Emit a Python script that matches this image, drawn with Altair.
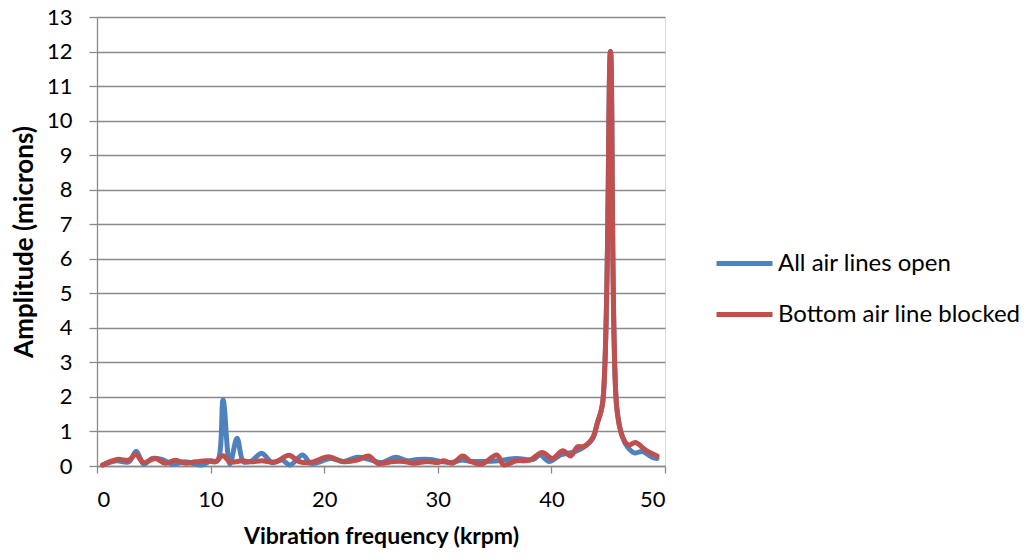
import altair as alt
import pandas as pd

series_names = ["All air lines open", "Bottom air line blocked"]
series_colors = ["#4F81BD", "#C0504D"]

blue_x = [0.5, 1.7, 2.8, 3.45, 4.1, 4.85, 5.7, 6.6, 7.8, 9.25, 10.0, 10.6, 11.1, 11.7,
          12.33, 12.9, 13.6, 14.5, 15.4, 16.3, 17.0, 18.1, 18.8, 19.7, 20.5, 21.7, 22.9,
          24.0, 25.0, 26.3, 27.3, 28.2, 29.4, 30.3, 31.2, 32.1, 33.0, 33.9, 35.3, 36.9,
          38.4, 39.0, 39.8, 40.8, 41.5, 42.4, 43.6, 44.05, 44.5, 45.2, 45.75, 46.25, 46.7,
          47.3, 48.0, 48.9, 49.3]
blue_y = [0.03, 0.15, 0.12, 0.43, 0.06, 0.22, 0.19, 0.06, 0.12, 0.03, 0.15, 0.15, 1.91, 0.06,
          0.80, 0.12, 0.15, 0.37, 0.10, 0.17, 0.03, 0.32, 0.08, 0.13, 0.22, 0.13, 0.25,
          0.19, 0.10, 0.25, 0.15, 0.19, 0.19, 0.13, 0.10, 0.17, 0.13, 0.13, 0.15, 0.22,
          0.19, 0.32, 0.13, 0.32, 0.37, 0.46, 0.78, 1.25, 1.8, 12.0, 1.7, 0.85, 0.55,
          0.38, 0.42, 0.25, 0.22]

red_x = [0.5, 1.76, 2.79, 3.43, 4.1, 5.14, 6.0, 6.9, 7.8, 8.66, 9.8, 10.4, 11.1, 11.7,
         12.8, 13.6, 14.5, 15.7, 16.9, 17.8, 18.8, 20.4, 21.6, 22.9, 23.9, 24.7, 26.1,
         27.0, 27.9, 29.1, 30.0, 30.5, 31.3, 32.2, 32.9, 33.9, 35.2, 35.8, 36.9, 38.1,
         39.2, 40.1, 41.0, 41.7, 42.3, 42.8, 43.6, 44.05, 44.5, 45.2, 45.75, 46.25, 46.8,
         47.4, 48.3, 49.3]
red_y = [0.03, 0.19, 0.17, 0.33, 0.10, 0.22, 0.08, 0.17, 0.08, 0.12, 0.15, 0.12, 0.30, 0.12,
         0.15, 0.12, 0.15, 0.12, 0.31, 0.13, 0.10, 0.27, 0.13, 0.17, 0.29, 0.08, 0.13,
         0.13, 0.08, 0.13, 0.10, 0.15, 0.08, 0.29, 0.13, 0.06, 0.32, 0.03, 0.15, 0.17,
         0.39, 0.22, 0.44, 0.29, 0.56, 0.56, 0.80, 1.25, 1.8, 12.0, 1.7, 0.85, 0.61,
         0.68, 0.46, 0.29]

x_ticks = [0, 10, 20, 30, 40, 50]
y_ticks = list(range(0, 14))

rows = []
for i, (xs, ys) in enumerate([(blue_x, blue_y), (red_x, red_y)]):
    for k, (a, b) in enumerate(zip(xs, ys)):
        rows.append({"series": series_names[i], "freq": a, "amp": b, "idx": k})
df = pd.DataFrame(rows)

FONT = "Lato"
GRID = "#8a8a8a"

chart = alt.Chart(df).mark_line(strokeWidth=5, interpolate="catmull-rom",
                                 strokeCap="round", strokeJoin="round").encode(
    x=alt.X("freq:Q",
            scale=alt.Scale(domain=[0, 50], nice=False, zero=False),
            axis=alt.Axis(values=x_ticks, title="Vibration frequency (krpm)", grid=False,
                          domainColor=GRID, tickColor=GRID, tickSize=7, domainWidth=1.3,
                          tickWidth=1.3, labelPadding=16, titlePadding=15,
                          labelFontSize=22, titleFontSize=23, labelFont=FONT, titleFont=FONT,
                          titleFontWeight="bold", labelColor="#000", titleColor="#000")),
    y=alt.Y("amp:Q",
            scale=alt.Scale(domain=[0, 13], nice=False),
            axis=alt.Axis(values=y_ticks, title="Amplitude (microns)", grid=True,
                          gridColor=GRID, gridWidth=1.3, domainColor=GRID, tickColor=GRID,
                          tickSize=8, domainWidth=1.3, tickWidth=1.3, labelPadding=17,
                          titlePadding=9, labelFontSize=22, titleFontSize=26,
                          labelFont=FONT, titleFont=FONT, titleFontWeight="bold",
                          labelColor="#000", titleColor="#000")),
    color=alt.Color("series:N",
                    scale=alt.Scale(domain=series_names, range=series_colors),
                    legend=alt.Legend(title=None, orient="none", legendX=617, legendY=216,
                                      symbolType="stroke", symbolSize=3136,
                                      symbolStrokeWidth=5, labelFontSize=24, labelFont=FONT,
                                      labelColor="#000", labelOffset=3, rowPadding=8,
                                      labelLimit=0, padding=0)),
    order=alt.Order("idx:Q"),
).properties(
    width=568, height=449,
    autosize=alt.AutoSizeParams(type="none"),
    padding={"left": 89, "top": 9, "right": 363, "bottom": 86},
).configure_view(stroke=None).configure(background="white")

chart.save("out.html", embed_options={"renderer": "svg", "actions": False})
